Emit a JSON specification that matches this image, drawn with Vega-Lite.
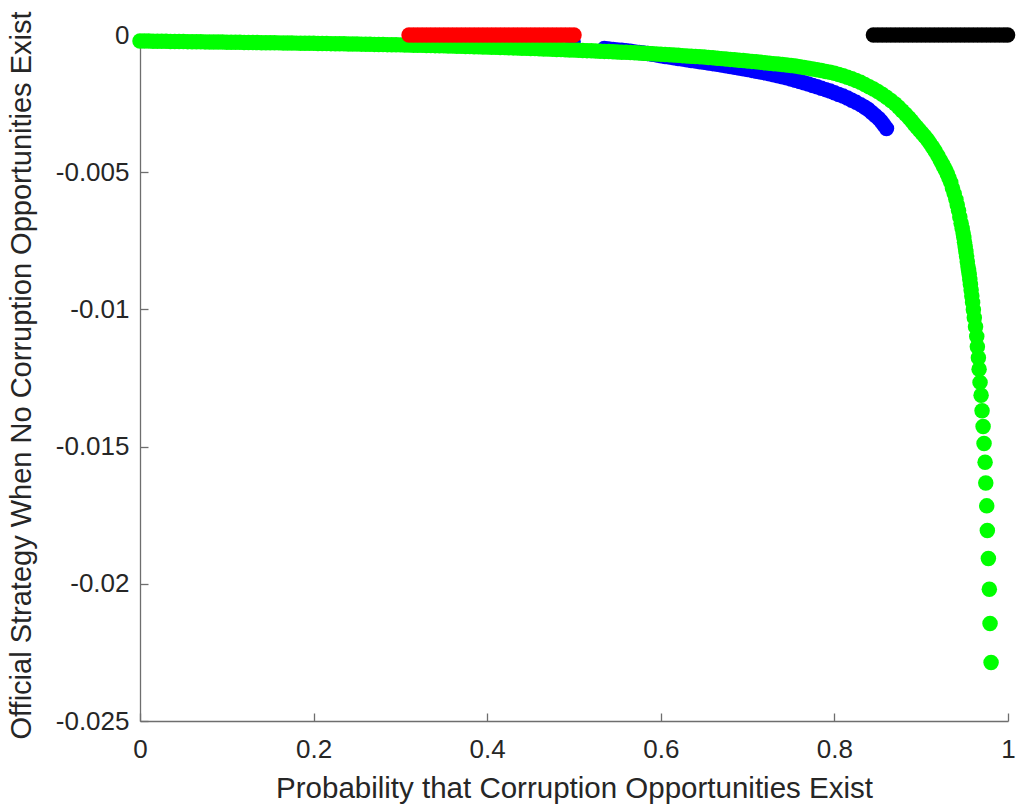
{
  "$schema": "https://vega.github.io/schema/vega-lite/v6.json",
  "autosize": "none",
  "width": 868,
  "height": 686,
  "padding": {"left": 140, "top": 35, "right": 8, "bottom": 89},
  "background": "white",
  "config": {
    "view": {"stroke": null},
    "font": "Liberation Sans"
  },
  "data": {
    "values": [
      {"s":"b","x":0.499,"y":-0.00025},
      {"s":"b","x":0.535,"y":-0.000494},{"s":"b","x":0.540,"y":-0.000511},{"s":"b","x":0.545,"y":-0.000527},{"s":"b","x":0.550,"y":-0.000543},{"s":"b","x":0.555,"y":-0.000559},
      {"s":"b","x":0.560,"y":-0.000575},{"s":"b","x":0.565,"y":-0.000595},{"s":"b","x":0.570,"y":-0.000615},{"s":"b","x":0.575,"y":-0.000635},{"s":"b","x":0.580,"y":-0.000655},
      {"s":"b","x":0.585,"y":-0.000678},{"s":"b","x":0.590,"y":-0.000701},{"s":"b","x":0.595,"y":-0.000725},{"s":"b","x":0.600,"y":-0.000756},{"s":"b","x":0.605,"y":-0.000781},
      {"s":"b","x":0.610,"y":-0.000805},{"s":"b","x":0.615,"y":-0.000829},{"s":"b","x":0.620,"y":-0.000853},{"s":"b","x":0.625,"y":-0.000877},{"s":"b","x":0.630,"y":-0.000901},
      {"s":"b","x":0.635,"y":-0.000926},{"s":"b","x":0.640,"y":-0.000950},{"s":"b","x":0.645,"y":-0.000974},{"s":"b","x":0.650,"y":-0.000997},{"s":"b","x":0.655,"y":-0.001021},
      {"s":"b","x":0.660,"y":-0.001044},{"s":"b","x":0.665,"y":-0.001068},{"s":"b","x":0.670,"y":-0.001093},{"s":"b","x":0.675,"y":-0.001120},{"s":"b","x":0.680,"y":-0.001148},
      {"s":"b","x":0.685,"y":-0.001176},{"s":"b","x":0.690,"y":-0.001204},{"s":"b","x":0.695,"y":-0.001232},{"s":"b","x":0.700,"y":-0.001261},{"s":"b","x":0.705,"y":-0.001290},
      {"s":"b","x":0.710,"y":-0.001319},{"s":"b","x":0.715,"y":-0.001348},{"s":"b","x":0.720,"y":-0.001378},{"s":"b","x":0.725,"y":-0.001413},{"s":"b","x":0.730,"y":-0.001449},
      {"s":"b","x":0.735,"y":-0.001485},{"s":"b","x":0.740,"y":-0.001521},{"s":"b","x":0.745,"y":-0.001560},{"s":"b","x":0.750,"y":-0.001605},{"s":"b","x":0.755,"y":-0.001650},
      {"s":"b","x":0.760,"y":-0.001695},{"s":"b","x":0.765,"y":-0.001740},{"s":"b","x":0.770,"y":-0.001786},{"s":"b","x":0.775,"y":-0.001837},{"s":"b","x":0.780,"y":-0.001888},
      {"s":"b","x":0.785,"y":-0.001940},{"s":"b","x":0.790,"y":-0.001991},{"s":"b","x":0.795,"y":-0.002044},{"s":"b","x":0.800,"y":-0.002105},{"s":"b","x":0.805,"y":-0.002166},
      {"s":"b","x":0.810,"y":-0.002227},{"s":"b","x":0.815,"y":-0.002295},{"s":"b","x":0.820,"y":-0.002375},{"s":"b","x":0.825,"y":-0.002455},{"s":"b","x":0.830,"y":-0.002538},
      {"s":"b","x":0.835,"y":-0.002635},{"s":"b","x":0.839,"y":-0.002715},{"s":"b","x":0.843,"y":-0.002825},{"s":"b","x":0.847,"y":-0.002930},{"s":"b","x":0.851,"y":-0.003045},
      {"s":"b","x":0.854,"y":-0.003155},{"s":"b","x":0.857,"y":-0.003275},{"s":"b","x":0.860,"y":-0.003407},

      {"s":"g","x":0.000,"y":-0.000219},{"s":"g","x":0.005,"y":-0.000221},{"s":"g","x":0.010,"y":-0.000223},{"s":"g","x":0.015,"y":-0.000225},{"s":"g","x":0.020,"y":-0.000227},
      {"s":"g","x":0.025,"y":-0.000230},{"s":"g","x":0.030,"y":-0.000232},{"s":"g","x":0.035,"y":-0.000234},{"s":"g","x":0.040,"y":-0.000236},{"s":"g","x":0.045,"y":-0.000238},
      {"s":"g","x":0.050,"y":-0.000240},{"s":"g","x":0.055,"y":-0.000242},{"s":"g","x":0.060,"y":-0.000244},{"s":"g","x":0.065,"y":-0.000246},{"s":"g","x":0.070,"y":-0.000248},
      {"s":"g","x":0.075,"y":-0.000251},{"s":"g","x":0.080,"y":-0.000253},{"s":"g","x":0.085,"y":-0.000255},{"s":"g","x":0.090,"y":-0.000257},{"s":"g","x":0.095,"y":-0.000259},
      {"s":"g","x":0.100,"y":-0.000261},{"s":"g","x":0.105,"y":-0.000263},{"s":"g","x":0.110,"y":-0.000265},{"s":"g","x":0.115,"y":-0.000268},{"s":"g","x":0.120,"y":-0.000270},
      {"s":"g","x":0.125,"y":-0.000272},{"s":"g","x":0.130,"y":-0.000274},{"s":"g","x":0.135,"y":-0.000276},{"s":"g","x":0.140,"y":-0.000279},{"s":"g","x":0.145,"y":-0.000281},
      {"s":"g","x":0.150,"y":-0.000283},{"s":"g","x":0.155,"y":-0.000285},{"s":"g","x":0.160,"y":-0.000287},{"s":"g","x":0.165,"y":-0.000290},{"s":"g","x":0.170,"y":-0.000292},
      {"s":"g","x":0.175,"y":-0.000294},{"s":"g","x":0.180,"y":-0.000296},{"s":"g","x":0.185,"y":-0.000298},{"s":"g","x":0.190,"y":-0.000301},{"s":"g","x":0.195,"y":-0.000303},
      {"s":"g","x":0.200,"y":-0.000305},{"s":"g","x":0.205,"y":-0.000308},{"s":"g","x":0.210,"y":-0.000310},{"s":"g","x":0.215,"y":-0.000313},{"s":"g","x":0.220,"y":-0.000315},
      {"s":"g","x":0.225,"y":-0.000318},{"s":"g","x":0.230,"y":-0.000320},{"s":"g","x":0.235,"y":-0.000323},{"s":"g","x":0.240,"y":-0.000325},{"s":"g","x":0.245,"y":-0.000328},
      {"s":"g","x":0.250,"y":-0.000330},{"s":"g","x":0.255,"y":-0.000333},{"s":"g","x":0.260,"y":-0.000336},{"s":"g","x":0.265,"y":-0.000339},{"s":"g","x":0.270,"y":-0.000342},
      {"s":"g","x":0.275,"y":-0.000345},{"s":"g","x":0.280,"y":-0.000348},{"s":"g","x":0.285,"y":-0.000351},{"s":"g","x":0.290,"y":-0.000354},{"s":"g","x":0.295,"y":-0.000357},
      {"s":"g","x":0.300,"y":-0.000360},{"s":"g","x":0.305,"y":-0.000364},{"s":"g","x":0.310,"y":-0.000367},{"s":"g","x":0.315,"y":-0.000371},{"s":"g","x":0.320,"y":-0.000374},
      {"s":"g","x":0.325,"y":-0.000378},{"s":"g","x":0.330,"y":-0.000381},{"s":"g","x":0.335,"y":-0.000385},{"s":"g","x":0.340,"y":-0.000388},{"s":"g","x":0.345,"y":-0.000392},
      {"s":"g","x":0.350,"y":-0.000395},{"s":"g","x":0.355,"y":-0.000400},{"s":"g","x":0.360,"y":-0.000404},{"s":"g","x":0.365,"y":-0.000409},{"s":"g","x":0.370,"y":-0.000413},
      {"s":"g","x":0.375,"y":-0.000418},{"s":"g","x":0.380,"y":-0.000422},{"s":"g","x":0.385,"y":-0.000427},{"s":"g","x":0.390,"y":-0.000431},{"s":"g","x":0.395,"y":-0.000436},
      {"s":"g","x":0.400,"y":-0.000440},{"s":"g","x":0.405,"y":-0.000445},{"s":"g","x":0.410,"y":-0.000450},{"s":"g","x":0.415,"y":-0.000455},{"s":"g","x":0.420,"y":-0.000460},
      {"s":"g","x":0.425,"y":-0.000465},{"s":"g","x":0.430,"y":-0.000470},{"s":"g","x":0.435,"y":-0.000475},{"s":"g","x":0.440,"y":-0.000480},{"s":"g","x":0.445,"y":-0.000485},
      {"s":"g","x":0.450,"y":-0.000490},{"s":"g","x":0.455,"y":-0.000496},{"s":"g","x":0.460,"y":-0.000502},{"s":"g","x":0.465,"y":-0.000508},{"s":"g","x":0.470,"y":-0.000514},
      {"s":"g","x":0.475,"y":-0.000520},{"s":"g","x":0.480,"y":-0.000526},{"s":"g","x":0.485,"y":-0.000532},{"s":"g","x":0.490,"y":-0.000538},{"s":"g","x":0.495,"y":-0.000544},
      {"s":"g","x":0.500,"y":-0.000550},{"s":"g","x":0.505,"y":-0.000557},{"s":"g","x":0.510,"y":-0.000563},{"s":"g","x":0.515,"y":-0.000570},{"s":"g","x":0.520,"y":-0.000577},
      {"s":"g","x":0.525,"y":-0.000584},{"s":"g","x":0.530,"y":-0.000590},{"s":"g","x":0.535,"y":-0.000597},{"s":"g","x":0.540,"y":-0.000604},{"s":"g","x":0.545,"y":-0.000610},
      {"s":"g","x":0.550,"y":-0.000617},{"s":"g","x":0.555,"y":-0.000625},{"s":"g","x":0.560,"y":-0.000633},{"s":"g","x":0.565,"y":-0.000641},{"s":"g","x":0.570,"y":-0.000649},
      {"s":"g","x":0.575,"y":-0.000658},{"s":"g","x":0.580,"y":-0.000666},{"s":"g","x":0.585,"y":-0.000674},{"s":"g","x":0.590,"y":-0.000682},{"s":"g","x":0.595,"y":-0.000690},
      {"s":"g","x":0.600,"y":-0.000698},{"s":"g","x":0.605,"y":-0.000709},{"s":"g","x":0.610,"y":-0.000719},{"s":"g","x":0.615,"y":-0.000730},{"s":"g","x":0.620,"y":-0.000741},
      {"s":"g","x":0.625,"y":-0.000752},{"s":"g","x":0.630,"y":-0.000762},{"s":"g","x":0.635,"y":-0.000773},{"s":"g","x":0.640,"y":-0.000784},{"s":"g","x":0.645,"y":-0.000794},
      {"s":"g","x":0.650,"y":-0.000805},{"s":"g","x":0.655,"y":-0.000819},{"s":"g","x":0.660,"y":-0.000833},{"s":"g","x":0.665,"y":-0.000847},{"s":"g","x":0.670,"y":-0.000861},
      {"s":"g","x":0.675,"y":-0.000875},{"s":"g","x":0.680,"y":-0.000889},{"s":"g","x":0.685,"y":-0.000903},{"s":"g","x":0.690,"y":-0.000917},{"s":"g","x":0.695,"y":-0.000931},
      {"s":"g","x":0.700,"y":-0.000945},{"s":"g","x":0.705,"y":-0.000962},{"s":"g","x":0.710,"y":-0.000978},{"s":"g","x":0.715,"y":-0.000995},{"s":"g","x":0.720,"y":-0.001011},
      {"s":"g","x":0.725,"y":-0.001028},{"s":"g","x":0.730,"y":-0.001044},{"s":"g","x":0.735,"y":-0.001061},{"s":"g","x":0.740,"y":-0.001077},{"s":"g","x":0.745,"y":-0.001094},
      {"s":"g","x":0.750,"y":-0.001110},{"s":"g","x":0.755,"y":-0.001132},{"s":"g","x":0.760,"y":-0.001156},{"s":"g","x":0.765,"y":-0.001181},{"s":"g","x":0.770,"y":-0.001208},
      {"s":"g","x":0.775,"y":-0.001236},{"s":"g","x":0.780,"y":-0.001266},{"s":"g","x":0.785,"y":-0.001297},{"s":"g","x":0.790,"y":-0.001329},{"s":"g","x":0.795,"y":-0.001361},
      {"s":"g","x":0.800,"y":-0.001395},{"s":"g","x":0.805,"y":-0.001437},{"s":"g","x":0.810,"y":-0.001484},{"s":"g","x":0.815,"y":-0.001536},{"s":"g","x":0.820,"y":-0.001593},
      {"s":"g","x":0.825,"y":-0.001655},{"s":"g","x":0.830,"y":-0.001722},{"s":"g","x":0.835,"y":-0.001805},{"s":"g","x":0.840,"y":-0.001885},{"s":"g","x":0.845,"y":-0.001970},
      {"s":"g","x":0.850,"y":-0.002060},{"s":"g","x":0.855,"y":-0.002160},{"s":"g","x":0.860,"y":-0.002270},{"s":"g","x":0.865,"y":-0.002385},{"s":"g","x":0.870,"y":-0.002510},
      {"s":"g","x":0.874,"y":-0.002630},{"s":"g","x":0.878,"y":-0.002760},{"s":"g","x":0.882,"y":-0.002890},{"s":"g","x":0.886,"y":-0.003020},{"s":"g","x":0.889,"y":-0.003130},
      {"s":"g","x":0.892,"y":-0.003250},{"s":"g","x":0.895,"y":-0.003360},{"s":"g","x":0.898,"y":-0.003470},{"s":"g","x":0.901,"y":-0.003580},{"s":"g","x":0.904,"y":-0.003690},
      {"s":"g","x":0.907,"y":-0.003810},{"s":"g","x":0.910,"y":-0.003940},{"s":"g","x":0.913,"y":-0.004080},{"s":"g","x":0.916,"y":-0.004230},{"s":"g","x":0.919,"y":-0.004390},
      {"s":"g","x":0.922,"y":-0.004560},{"s":"g","x":0.924,"y":-0.004680},{"s":"g","x":0.926,"y":-0.004800},{"s":"g","x":0.928,"y":-0.004920},{"s":"g","x":0.930,"y":-0.005060},
      {"s":"g","x":0.932,"y":-0.005210},{"s":"g","x":0.934,"y":-0.005370},{"s":"g","x":0.936,"y":-0.005580},{"s":"g","x":0.938,"y":-0.005780},{"s":"g","x":0.940,"y":-0.005990},
      {"s":"g","x":0.9415,"y":-0.006190},{"s":"g","x":0.943,"y":-0.006400},{"s":"g","x":0.9445,"y":-0.006630},{"s":"g","x":0.946,"y":-0.006860},{"s":"g","x":0.9472,"y":-0.007050},
      {"s":"g","x":0.9483,"y":-0.007220},{"s":"g","x":0.9491,"y":-0.007380},{"s":"g","x":0.9499,"y":-0.007550},{"s":"g","x":0.9507,"y":-0.007720},{"s":"g","x":0.9515,"y":-0.007890},
      {"s":"g","x":0.9523,"y":-0.008070},{"s":"g","x":0.9531,"y":-0.008260},{"s":"g","x":0.9539,"y":-0.008450},{"s":"g","x":0.9546,"y":-0.008580},{"s":"g","x":0.9553,"y":-0.008730},
      {"s":"g","x":0.9560,"y":-0.008910},{"s":"g","x":0.9567,"y":-0.009090},{"s":"g","x":0.9575,"y":-0.009290},{"s":"g","x":0.9583,"y":-0.009510},{"s":"g","x":0.9592,"y":-0.009750},
      {"s":"g","x":0.9601,"y":-0.010010},{"s":"g","x":0.9612,"y":-0.010300},{"s":"g","x":0.9626,"y":-0.010630},{"s":"g","x":0.9640,"y":-0.010990},{"s":"g","x":0.9647,"y":-0.01136},
      {"s":"g","x":0.9659,"y":-0.01176},{"s":"g","x":0.9667,"y":-0.01218},{"s":"g","x":0.9678,"y":-0.01266},{"s":"g","x":0.9690,"y":-0.01313},{"s":"g","x":0.9701,"y":-0.01369},
      {"s":"g","x":0.9713,"y":-0.01427},{"s":"g","x":0.9724,"y":-0.01489},{"s":"g","x":0.9736,"y":-0.01557},{"s":"g","x":0.9744,"y":-0.01633},{"s":"g","x":0.9755,"y":-0.01716},
      {"s":"g","x":0.9762,"y":-0.01806},{"s":"g","x":0.9774,"y":-0.01908},{"s":"g","x":0.9785,"y":-0.02020},{"s":"g","x":0.9793,"y":-0.02145},{"s":"g","x":0.9805,"y":-0.02287},

      {"s":"r","x":0.310,"y":0},{"s":"r","x":0.315,"y":0},{"s":"r","x":0.320,"y":0},{"s":"r","x":0.325,"y":0},{"s":"r","x":0.330,"y":0},
      {"s":"r","x":0.335,"y":0},{"s":"r","x":0.340,"y":0},{"s":"r","x":0.345,"y":0},{"s":"r","x":0.350,"y":0},{"s":"r","x":0.355,"y":0},
      {"s":"r","x":0.360,"y":0},{"s":"r","x":0.365,"y":0},{"s":"r","x":0.370,"y":0},{"s":"r","x":0.375,"y":0},{"s":"r","x":0.380,"y":0},
      {"s":"r","x":0.385,"y":0},{"s":"r","x":0.390,"y":0},{"s":"r","x":0.395,"y":0},{"s":"r","x":0.400,"y":0},{"s":"r","x":0.405,"y":0},
      {"s":"r","x":0.410,"y":0},{"s":"r","x":0.415,"y":0},{"s":"r","x":0.420,"y":0},{"s":"r","x":0.425,"y":0},{"s":"r","x":0.430,"y":0},
      {"s":"r","x":0.435,"y":0},{"s":"r","x":0.440,"y":0},{"s":"r","x":0.445,"y":0},{"s":"r","x":0.450,"y":0},{"s":"r","x":0.455,"y":0},
      {"s":"r","x":0.460,"y":0},{"s":"r","x":0.465,"y":0},{"s":"r","x":0.470,"y":0},{"s":"r","x":0.475,"y":0},{"s":"r","x":0.480,"y":0},
      {"s":"r","x":0.485,"y":0},{"s":"r","x":0.490,"y":0},{"s":"r","x":0.495,"y":0},{"s":"r","x":0.500,"y":0},

      {"s":"k","x":0.845,"y":0},{"s":"k","x":0.850,"y":0},{"s":"k","x":0.855,"y":0},{"s":"k","x":0.860,"y":0},{"s":"k","x":0.865,"y":0},
      {"s":"k","x":0.870,"y":0},{"s":"k","x":0.875,"y":0},{"s":"k","x":0.880,"y":0},{"s":"k","x":0.885,"y":0},{"s":"k","x":0.890,"y":0},
      {"s":"k","x":0.895,"y":0},{"s":"k","x":0.900,"y":0},{"s":"k","x":0.905,"y":0},{"s":"k","x":0.910,"y":0},{"s":"k","x":0.915,"y":0},
      {"s":"k","x":0.920,"y":0},{"s":"k","x":0.925,"y":0},{"s":"k","x":0.930,"y":0},{"s":"k","x":0.935,"y":0},{"s":"k","x":0.940,"y":0},
      {"s":"k","x":0.945,"y":0},{"s":"k","x":0.950,"y":0},{"s":"k","x":0.955,"y":0},{"s":"k","x":0.960,"y":0},{"s":"k","x":0.965,"y":0},
      {"s":"k","x":0.970,"y":0},{"s":"k","x":0.975,"y":0},{"s":"k","x":0.980,"y":0},{"s":"k","x":0.985,"y":0},{"s":"k","x":0.990,"y":0},
      {"s":"k","x":0.995,"y":0},{"s":"k","x":0.9995,"y":0}
    ]
  },
  "mark": {"type": "circle", "size": 240, "opacity": 1, "strokeWidth": 0},
  "encoding": {
    "x": {
      "field": "x",
      "type": "quantitative",
      "scale": {"domain": [0, 1], "nice": false, "zero": false},
      "axis": {
        "title": "Probability that Corruption Opportunities Exist",
        "values": [0, 0.2, 0.4, 0.6, 0.8, 1],
        "format": "~g",
        "grid": false,
        "domainColor": "#6e6e6e",
        "domainWidth": 1.3,
        "tickColor": "#6e6e6e",
        "tickWidth": 1.3,
        "tickSize": -8,
        "labelFont": "Liberation Sans",
        "labelFontSize": 26,
        "labelColor": "#262626",
        "labelBaseline": "alphabetic",
        "labelPadding": 44,
        "labelFlush": false,
        "labelOverlap": false,
        "titleFont": "Liberation Sans",
        "titleFontSize": 29.5,
        "titleFontWeight": "normal",
        "titleColor": "#262626",
        "titleBaseline": "alphabetic",
        "titleAnchor": "middle",
        "titleX": 434,
        "titleY": 76
      }
    },
    "y": {
      "field": "y",
      "type": "quantitative",
      "scale": {"domain": [-0.025, 0], "nice": false, "zero": false},
      "axis": {
        "title": "Official Strategy When No Corruption Opportunities Exist",
        "values": [-0.025, -0.02, -0.015, -0.01, -0.005, 0],
        "format": "~g",
        "labelExpr": "replace(datum.label, '\u2212', '-')",
        "grid": false,
        "domainColor": "#6e6e6e",
        "domainWidth": 1.3,
        "tickColor": "#6e6e6e",
        "tickWidth": 1.3,
        "tickSize": -8,
        "labelFont": "Liberation Sans",
        "labelFontSize": 26,
        "labelColor": "#262626",
        "labelBaseline": "middle",
        "labelPadding": 19,
        "labelFlush": false,
        "labelOverlap": false,
        "titleFont": "Liberation Sans",
        "titleFontSize": 29,
        "titleFontWeight": "normal",
        "titleColor": "#262626",
        "titleAngle": -90,
        "titleBaseline": "middle",
        "titleAnchor": "middle",
        "titleX": -119,
        "titleY": 340
      }
    },
    "color": {
      "field": "s",
      "type": "nominal",
      "scale": {"domain": ["b", "g", "r", "k"], "range": ["#0000ff", "#00ff00", "#ff0000", "#000000"]},
      "legend": null
    }
  }
}
